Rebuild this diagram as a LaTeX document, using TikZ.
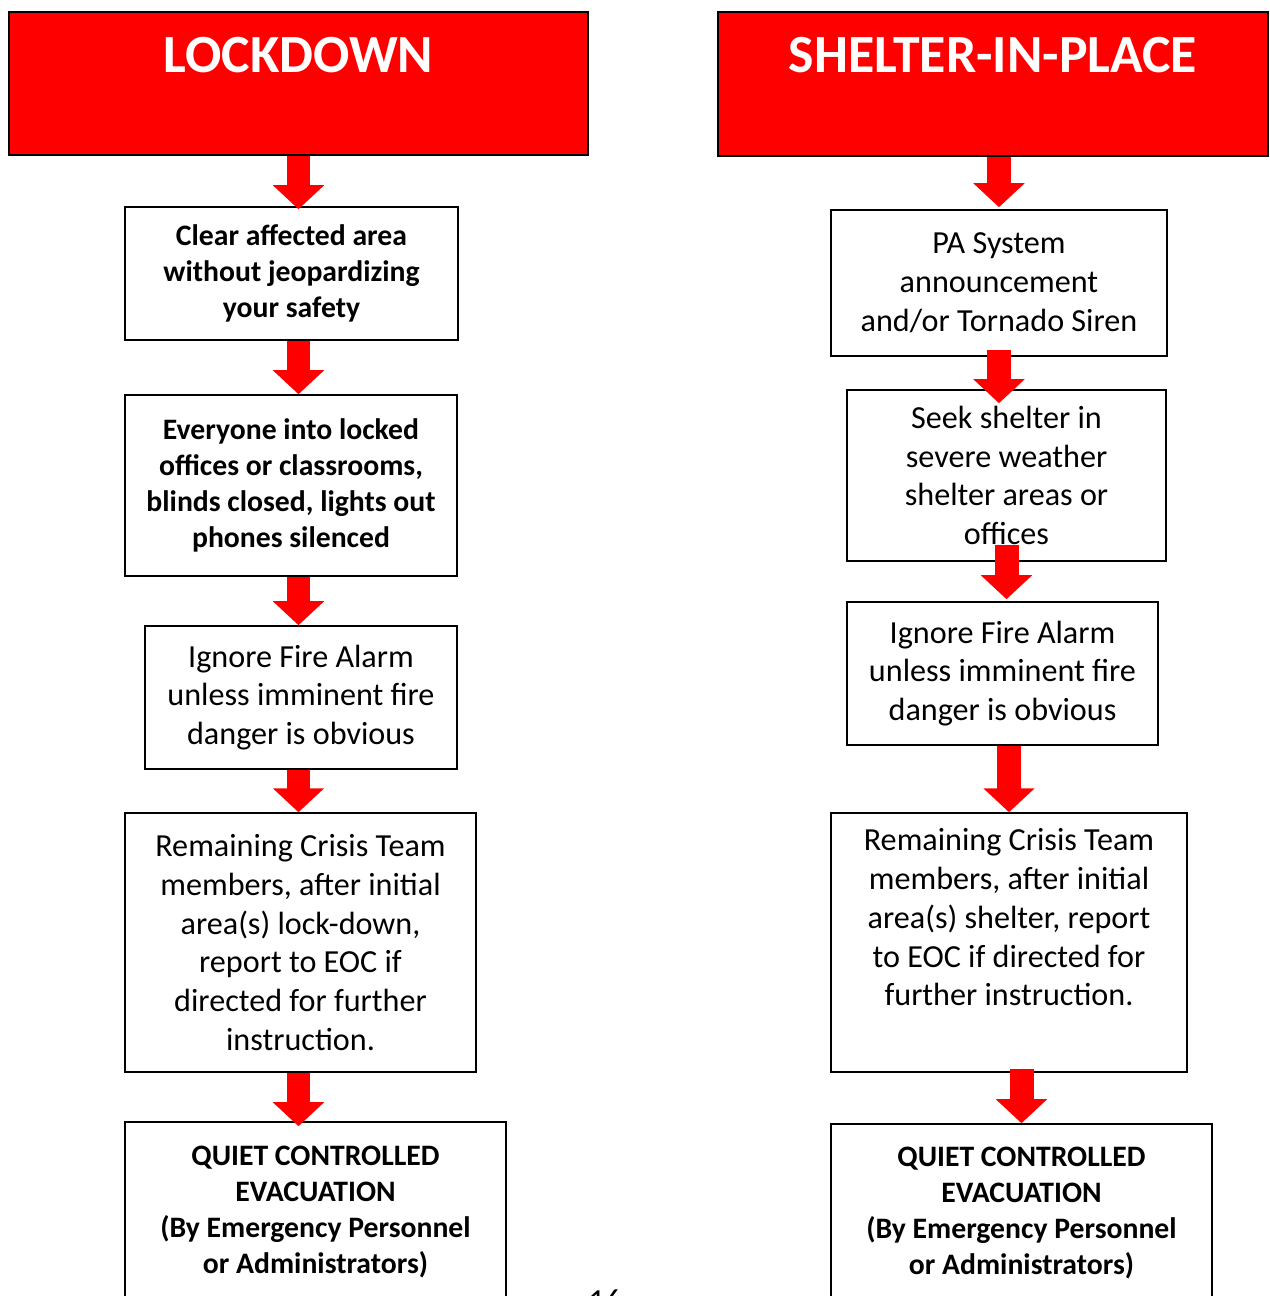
\documentclass[tikz,border=0pt]{standalone}
\usepackage{fontspec}
\setmainfont{Carlito}
\usetikzlibrary{arrows.meta}

\begin{document}
\begin{tikzpicture}[
x=0.02cm, y=-0.02cm,
box/.style={
draw,
line width=0.9pt,
align=center,
inner sep=0pt,
font=\fontsize{18.3}{22.1}\selectfont
},
boldbox/.style={
box,
font=\bfseries\fontsize{16.9}{20.4}\selectfont
},
head/.style={
draw,
line width=1pt,
fill=red
},
headtext/.style={
text=white,
font=\bfseries\fontsize{30.6}{36}\selectfont
},
redarrow/.style={
red,
line width=0.48cm,
-{Triangle[width=1cm,length=0.48cm]}
}
]

\useasboundingbox (0,0) rectangle (1269,1296);

% left column
\node[head, minimum width=11.58cm, minimum height=2.86cm] (L) at (298.5,83.5) {};
\node[headtext] (Lt) at (298.5,55) {LOCKDOWN};

\node[boldbox, minimum width=6.66cm, minimum height=2.66cm] (L1) at (291.5,273.5) {Clear affected area\\without jeopardizing\\your safety};
\node[boldbox, minimum width=6.64cm, minimum height=3.62cm] (L2) at (291,485.5) {Everyone into locked\\offices or classrooms,\\blinds closed, lights out\\phones silenced};
\node[box, minimum width=6.24cm, minimum height=2.86cm] (L3) at (301,697.5) {Ignore Fire Alarm\\unless imminent fire\\danger is obvious};
\node[box, minimum width=7.02cm, minimum height=5.18cm] (L4) at (300.5,942.5) {Remaining Crisis Team\\members, after initial\\area(s) lock-down,\\report to EOC if\\directed for further\\instruction.};
\node[boldbox, minimum width=7.62cm, minimum height=3.6cm] (L5) at (315.5,1212) {QUIET CONTROLLED\\EVACUATION\\(By Emergency Personnel\\or Administrators)};

% right column
\node[head, minimum width=11cm, minimum height=2.88cm] (R) at (993,84) {};
\node[headtext] (Rt) at (993,55) {SHELTER-IN-PLACE};

\node[box, minimum width=6.72cm, minimum height=2.92cm] (R1) at (999,283) {PA System\\announcement\\and/or Tornado Siren};
\node[box, minimum width=6.38cm, minimum height=3.42cm] (R2) at (1006.5,475.5) {Seek shelter in\\severe weather\\shelter areas or\\offices};
\node[box, minimum width=6.22cm, minimum height=2.86cm] (R3) at (1002.5,673.5) {Ignore Fire Alarm\\unless imminent fire\\danger is obvious};
\node[box, minimum width=7.12cm, minimum height=5.18cm] (R4) at (1009,942.5) {Remaining Crisis Team\\members, after initial\\area(s) shelter, report\\to EOC if directed for\\further instruction.\\ \strut};
\node[boldbox, minimum width=7.62cm, minimum height=3.56cm] (R5) at (1021.5,1213) {QUIET CONTROLLED\\EVACUATION\\(By Emergency Personnel\\or Administrators)};

\node[font=\fontsize{18.3}{22.1}\selectfont] (pg) at (605,1301) {16};

% arrows
\draw[redarrow] (L.south) -- ([yshift=-0.06cm]L.south |- L1.north);
\draw[redarrow] (L1.south -| L.south) -- (L2.north -| L.south);
\draw[redarrow] (L2.south -| L.south) -- (L3.north -| L.south);
\draw[redarrow] (L3.south -| L.south) -- (L4.north -| L.south);
\draw[redarrow] (L4.south -| L.south) -- ([yshift=-0.1cm]L5.north -| L.south);

\draw[redarrow] (R.south -| R1.north) -- ([yshift=0.04cm]R1.north);
\draw[redarrow] ([yshift=0.14cm]R1.south) -- ([yshift=-0.28cm]R1.south |- R2.north);
\draw[redarrow] ([yshift=0.34cm]R2.south) -- ([yshift=0.04cm]R2.south |- R3.north);
\draw[redarrow] (R3.south -| R4.north) -- (R4.north);
\draw[redarrow] ([yshift=0.08cm]R4.south -| R5.north) -- (R5.north);

\end{tikzpicture}
\end{document}
